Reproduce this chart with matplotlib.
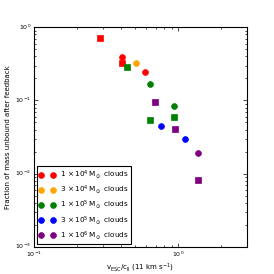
import matplotlib
matplotlib.use("Agg")
import matplotlib.pyplot as plt

plt.style.use("classic")
plt.rcParams["mathtext.fontset"] = "dejavusans"
plt.rcParams["mathtext.default"] = "regular"

# Data: circles (legend) and squares per cloud mass
labels = [r"$1\,\times10^4\,\mathrm{M}_\odot$ clouds",
          r"$3\,\times10^4\,\mathrm{M}_\odot$ clouds",
          r"$1\,\times10^5\,\mathrm{M}_\odot$ clouds",
          r"$3\,\times10^5\,\mathrm{M}_\odot$ clouds",
          r"$1\,\times10^6\,\mathrm{M}_\odot$ clouds"]
colors = ["red", "orange", "green", "blue", "purple"]

circ_x = [[0.409, 0.591], [0.510], [0.641, 0.932], [0.762, 1.111], [1.384]]
circ_y = [[0.389, 0.242], [0.325], [0.166, 0.0839], [0.0443, 0.030], [0.0191]]

sq_x = [[0.289, 0.409], [], [0.441, 0.641, 0.932], [], [0.692, 0.953, 1.384]]
sq_y = [[0.714, 0.322], [], [0.286, 0.0535, 0.0593], [], [0.0943, 0.0403, 0.0081]]

fig = plt.figure(figsize=(2.74, 2.74), dpi=100, facecolor="white")
ax = fig.add_axes([0.124, 0.1, 0.777, 0.8])

for lab, c, xs, ys in zip(labels, colors, circ_x, circ_y):
    ax.plot(xs, ys, "o", color=c, mec=c, ms=4.2, label=lab)
for c, xs, ys in zip(colors, sq_x, sq_y):
    if xs:
        ax.plot(xs, ys, "s", color=c, mec=c, ms=4.2)

ax.set_xscale("log")
ax.set_yscale("log")
ax.set_xlim(0.1, 3.0)
ax.set_ylim(1e-3, 1.0)
ax.tick_params(which="both", labelsize=4.5, width=0.5, pad=2)
ax.tick_params(which="major", length=3)
ax.tick_params(which="minor", length=1.5)
for s in ax.spines.values():
    s.set_linewidth(0.8)

ax.set_xlabel(r"$v_{\rm ESC}/c_{\rm II}$ (11 km s$^{-1}$)", fontsize=5, labelpad=2)
ax.set_ylabel("Fraction of mass unbound after feedback", fontsize=5, labelpad=3)

leg = ax.legend(loc="lower left", numpoints=2, fontsize=5.2, borderaxespad=0.35,
                handlelength=2.2, handletextpad=0.7, labelspacing=0.35,
                borderpad=0.35)
leg.get_frame().set_linewidth(0.8)

fig.savefig("out.png", dpi=100, facecolor="white")
